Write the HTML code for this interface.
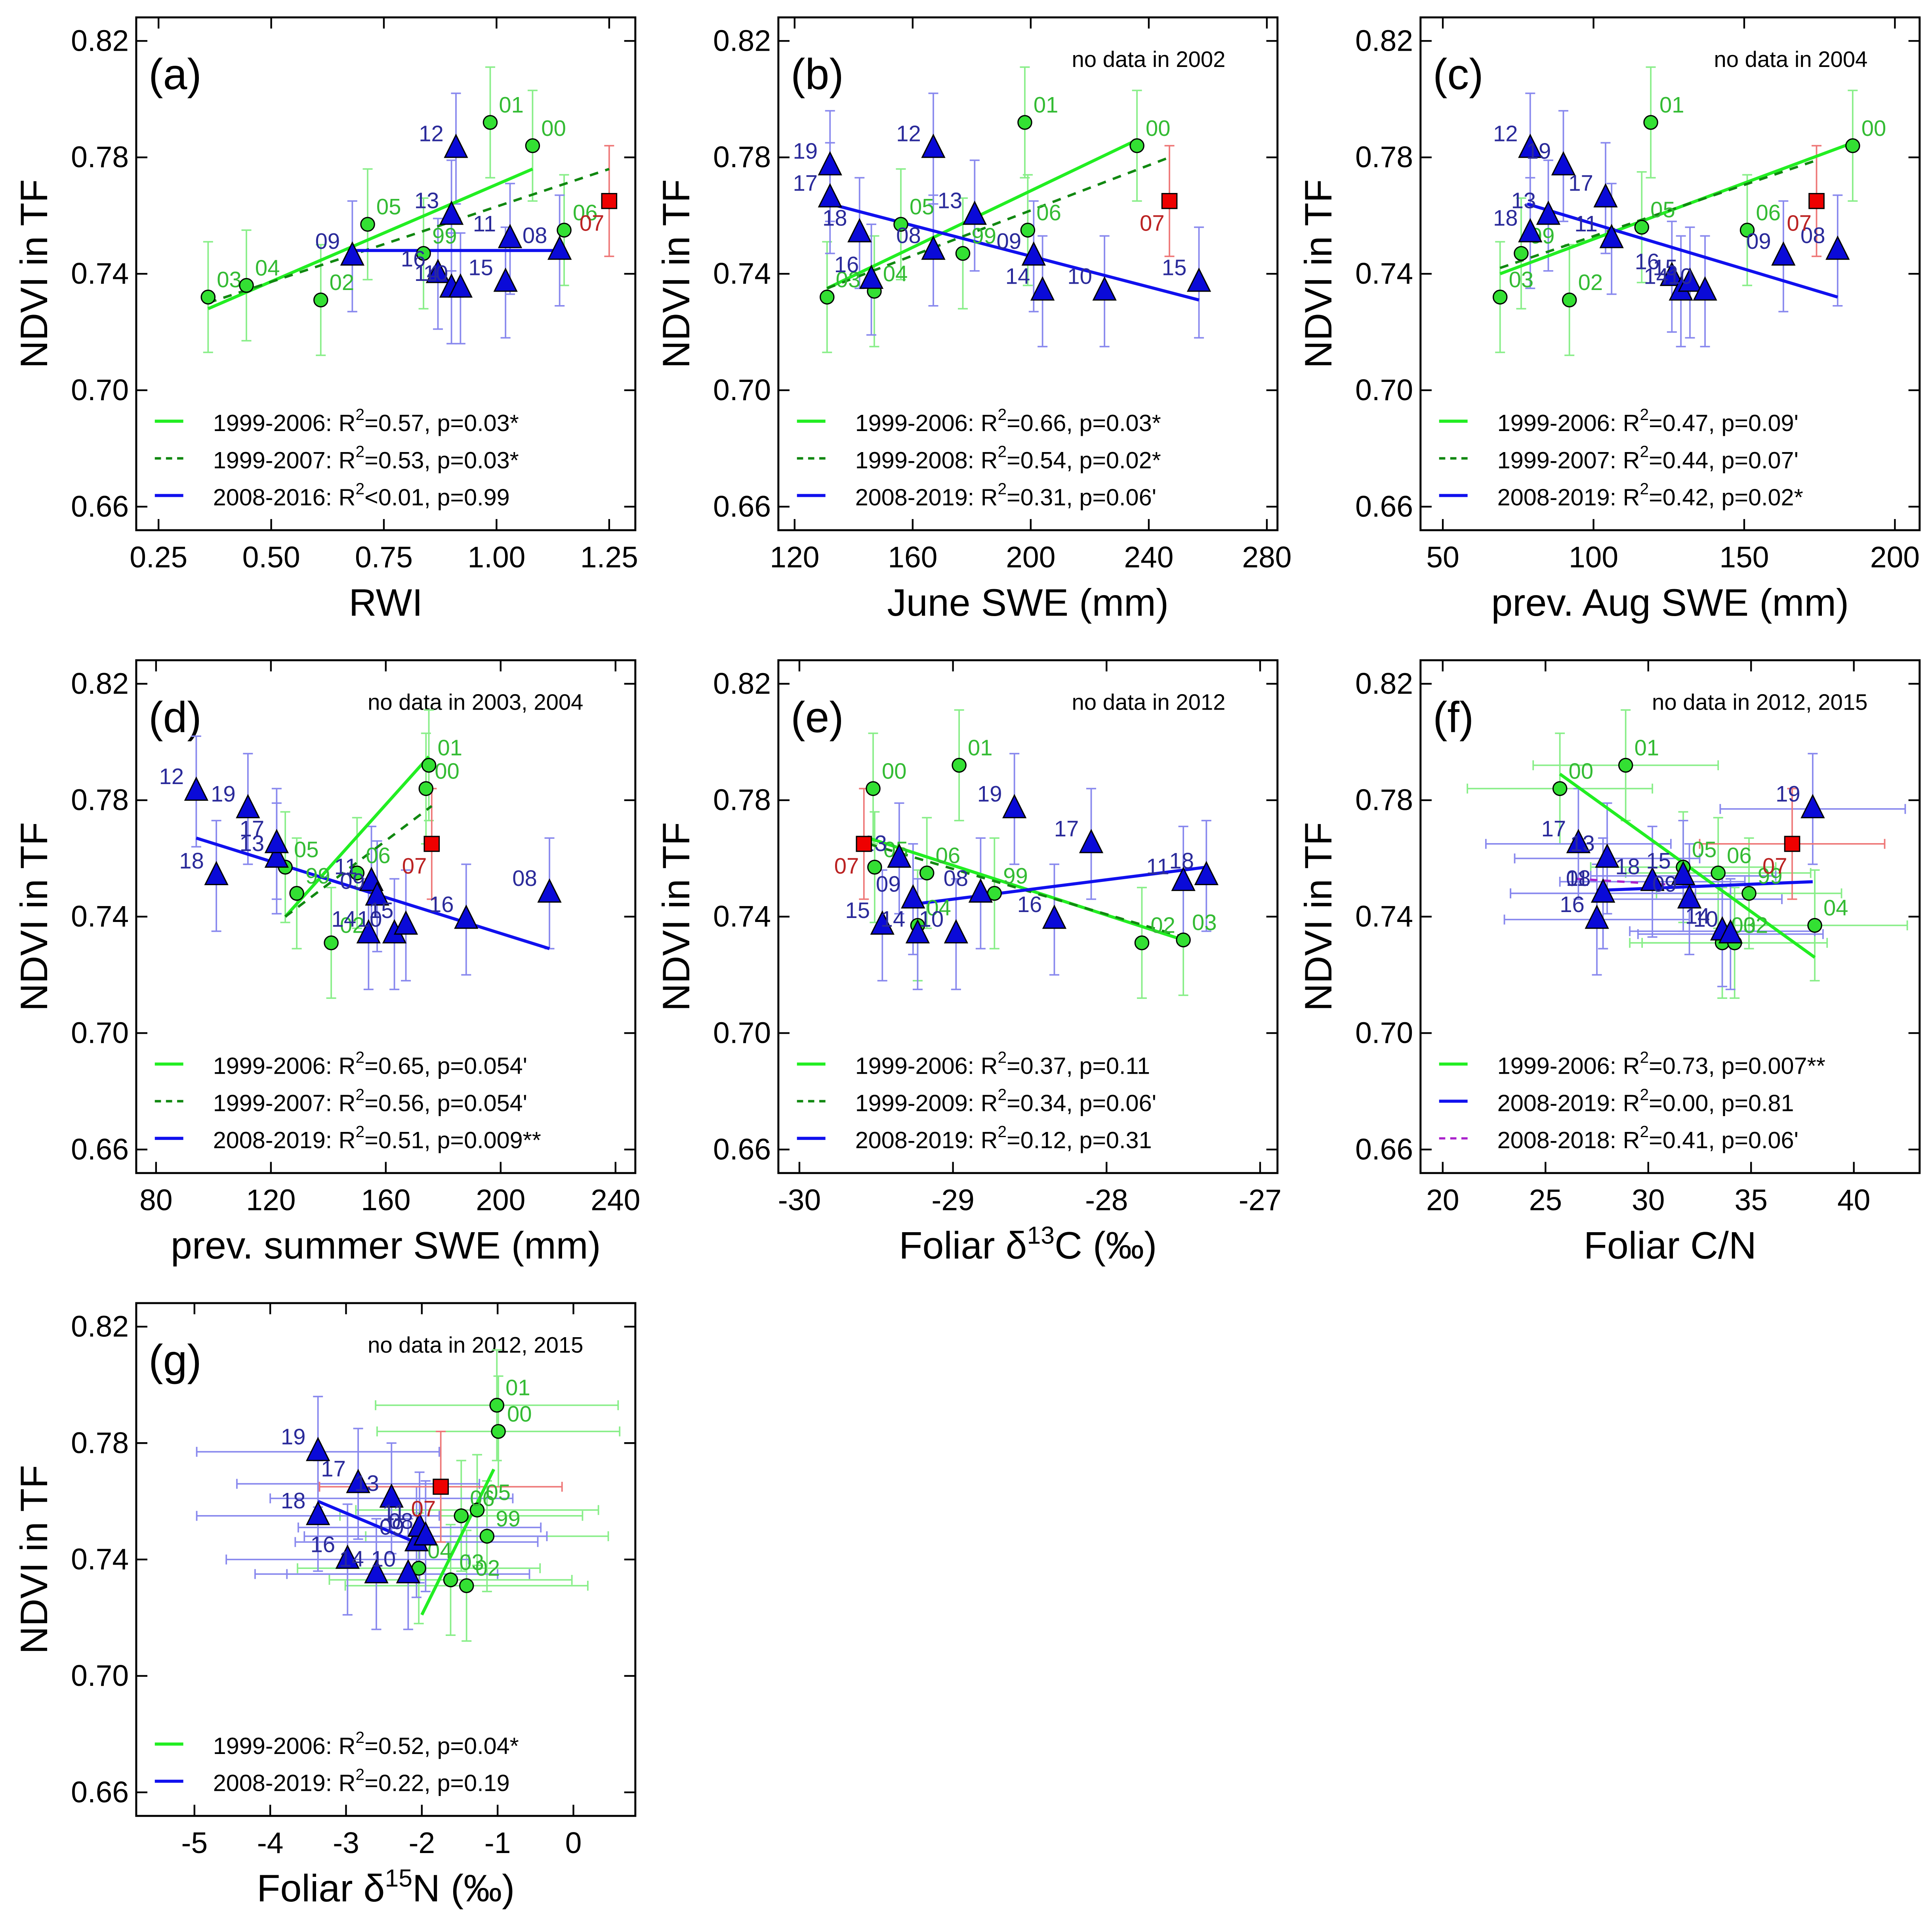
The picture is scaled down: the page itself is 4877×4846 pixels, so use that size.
<!DOCTYPE html>
<html><head><meta charset="utf-8"><style>
html,body{margin:0;padding:0;background:#fff}
svg{display:block}
text{font-family:"Liberation Sans",Arial,sans-serif}
</style></head><body>
<svg id="chart" xmlns="http://www.w3.org/2000/svg" width="4877" height="4846" viewBox="0 0 1560 1550"></svg>
<script>
// ---- Panel (a) RWI ----
const aGreenYears=["03","04","02","05","99","01","00","06"];
const aGreenX=[0.36,0.445,0.61,0.714,0.838,0.986,1.08,1.15];
const aGreenY=[0.732,0.736,0.731,0.757,0.747,0.792,0.784,0.755];
const aBlueYears=["09","12","13","16","14","10","11","15","08"];
const aBlueX=[0.68,0.91,0.90,0.87,0.90,0.92,1.03,1.02,1.14];
const aBlueY=[0.746,0.783,0.760,0.740,0.735,0.735,0.752,0.737,0.748];
const aRedX=[1.25], aRedY=[0.765];
const aLines=[[0.36,0.728,1.08,0.776],[0.36,0.730,1.25,0.776],[0.68,0.748,1.14,0.748]];
const aLegend=["1999-2006: R|=0.57, p=0.03*","1999-2007: R|=0.53, p=0.03*","2008-2016: R|<0.01, p=0.99"];
// ---- Panel (b) June SWE ----
const bGreenYears=["03","04","05","99","06","01","00"];
const bGreenX=[131,147,156,177,199,198,236];
const bGreenY=[0.732,0.734,0.757,0.747,0.755,0.792,0.784];
const bBlueYears=["19","17","18","16","08","12","13","09","14","10","15"];
const bBlueX=[132,132,142,146,167,167,181,201,204,225,257];
const bBlueY=[0.777,0.766,0.754,0.738,0.748,0.783,0.760,0.746,0.734,0.734,0.737];
const bRedX=[247], bRedY=[0.765];
const bLines=[[131,0.735,236,0.786],[131,0.735,247,0.780],[132,0.764,257,0.731]];
const bLegend=["1999-2006: R|=0.66, p=0.03*","1999-2008: R|=0.54, p=0.02*","2008-2019: R|=0.31, p=0.06'"];
// ---- Panel (c) prev Aug SWE ----
const cGreenYears=["03","99","02","05","01","06","00"];
const cGreenX=[69,76,92,116,119,151,186];
const cGreenY=[0.732,0.747,0.731,0.756,0.792,0.755,0.784];
const cBlueYears=["12","18","13","19","11","17","16","14","15","10","09","08"];
const cBlueX=[79,79,85,90,106,104,126,129,132,137,163,181];
const cBlueY=[0.783,0.754,0.760,0.777,0.752,0.766,0.739,0.734,0.737,0.734,0.746,0.748];
const cRedX=[174], cRedY=[0.765];
const cLines=[[69,0.740,186,0.785],[69,0.742,174,0.779],[78,0.764,181,0.732]];
const cLegend=["1999-2006: R|=0.47, p=0.09'","1999-2007: R|=0.44, p=0.07'","2008-2019: R|=0.42, p=0.02*"];
// ---- Panel (d) prev summer SWE ----
const dGreenYears=["99","02","05","06","00","01"];
const dGreenX=[129,141,125,150,174,175];
const dGreenY=[0.748,0.731,0.757,0.755,0.784,0.792];
const dBlueYears=["12","19","18","13","17","11","14","09","10","15","16","08"];
const dBlueX=[94,112,101,122,122,155,154,157,163,167,188,217];
const dBlueY=[0.783,0.777,0.754,0.760,0.765,0.752,0.734,0.747,0.734,0.737,0.739,0.748];
const dRedX=[176], dRedY=[0.765];
const dLines=[[125,0.740,175,0.795],[125,0.740,176,0.778],[94,0.767,217,0.729]];
const dLegend=["1999-2006: R|=0.65, p=0.054'","1999-2007: R|=0.56, p=0.054'","2008-2019: R|=0.51, p=0.009**"];
// ---- Panel (e) d13C ----
const eGreenYears=["00","05","01","06","04","99","02","03"];
const eGreenX=[-29.52,-29.51,-28.96,-29.17,-29.23,-28.73,-27.77,-27.5];
const eGreenY=[0.784,0.757,0.792,0.755,0.737,0.748,0.731,0.732];
const eBlueYears=["13","09","15","14","10","08","19","16","17","11","18"];
const eBlueX=[-29.35,-29.26,-29.46,-29.23,-28.98,-28.82,-28.6,-28.34,-28.1,-27.5,-27.35];
const eBlueY=[0.760,0.746,0.737,0.734,0.734,0.748,0.777,0.739,0.765,0.752,0.754];
const eRedX=[-29.58], eRedY=[0.765];
const eLines=[[-29.55,0.767,-27.5,0.732],[-29.55,0.765,-27.5,0.733],[-29.3,0.744,-27.35,0.757]];
const eLegend=["1999-2006: R|=0.37, p=0.11","1999-2009: R|=0.34, p=0.06'","2008-2019: R|=0.12, p=0.31"];
// ---- Panel (f) C/N ----
const fGreenYears=["00","01","05","06","99","04","03","02"];
const fGreenX=[25.7,28.9,31.7,33.4,34.9,38.1,33.6,34.2];
const fGreenY=[0.784,0.792,0.757,0.755,0.748,0.737,0.731,0.731];
const fBlueYears=["17","13","19","08","18","16","15","09","14","10","11"];
const fBlueX=[26.6,28.0,38.0,27.8,30.2,27.5,31.7,32.0,33.6,34.0,27.8];
const fBlueY=[0.765,0.760,0.777,0.748,0.752,0.739,0.754,0.746,0.735,0.734,0.748];
const fRedX=[37.0], fRedY=[0.765];
const fLines=[[25.7,0.789,38.1,0.726],[27.5,0.749,38,0.752],[26.5,0.753,31,0.751]];
const fLegend=["1999-2006: R|=0.73, p=0.007**","2008-2019: R|=0.00, p=0.81","2008-2018: R|=0.41, p=0.06'"];
// ---- Panel (g) d15N ----
const gGreenYears=["01","00","05","06","99","04","03","02"];
const gGreenX=[-1.01,-0.99,-1.27,-1.48,-1.14,-2.04,-1.62,-1.41];
const gGreenY=[0.793,0.784,0.757,0.755,0.748,0.737,0.733,0.731];
const gBlueYears=["19","17","13","18","16","14","10","09","11","08"];
const gBlueX=[-3.37,-2.84,-2.4,-3.37,-2.98,-2.6,-2.18,-2.07,-2.03,-1.95];
const gBlueY=[0.777,0.766,0.761,0.755,0.740,0.735,0.735,0.746,0.751,0.748];
const gRedX=[-1.75], gRedY=[0.765];
const gLines=[[-2.0,0.721,-1.05,0.771],[-3.37,0.760,-2.0,0.745]];
const gLegend=["1999-2006: R|=0.52, p=0.04*","2008-2019: R|=0.22, p=0.19"];

const yTicks=[0.82,0.78,0.74,0.70,0.66];
const yTickLabels=["0.82","0.78","0.74","0.70","0.66"];
const aXTicks=[0.25,0.5,0.75,1.0,1.25], aXLabels=["0.25","0.50","0.75","1.00","1.25"];
const bXTicks=[120,160,200,240,280], bXLabels=["120","160","200","240","280"];
const cXTicks=[50,100,150,200], cXLabels=["50","100","150","200"];
const dXTicks=[80,120,160,200,240], dXLabels=["80","120","160","200","240"];
const eXTicks=[-30,-29,-28,-27], eXLabels=["-30","-29","-28","-27"];
const fXTicks=[20,25,30,35,40], fXLabels=["20","25","30","35","40"];
const gXTicks=[-5,-4,-3,-2,-1,0], gXLabels=["-5","-4","-3","-2","-1","0"];

const NS="http://www.w3.org/2000/svg";
const svg=document.getElementById('chart');
function mk(tag,attrs,parent){const e=document.createElementNS(NS,tag);for(const k in attrs)e.setAttribute(k,attrs[k]);(parent||svg).appendChild(e);return e;}

const panels=[
 {id:'a',col:0,row:0,xmin:0.2005,xmax:1.308,xt:aXTicks,xl:aXLabels,gy:aGreenYears,gx:aGreenX,gv:aGreenY,by:aBlueYears,bx:aBlueX,bv:aBlueY,rx:aRedX,rv:aRedY,lines:aLines,leg:aLegend,styles:['g','dg','b'],xlab:'RWI',note:''},
 {id:'b',col:1,row:0,xmin:114.5,xmax:283.6,xt:bXTicks,xl:bXLabels,gy:bGreenYears,gx:bGreenX,gv:bGreenY,by:bBlueYears,bx:bBlueX,bv:bBlueY,rx:bRedX,rv:bRedY,lines:bLines,leg:bLegend,styles:['g','dg','b'],xlab:'June SWE (mm)',note:'no data in 2002'},
 {id:'c',col:2,row:0,xmin:42.6,xmax:208.2,xt:cXTicks,xl:cXLabels,gy:cGreenYears,gx:cGreenX,gv:cGreenY,by:cBlueYears,bx:cBlueX,bv:cBlueY,rx:cRedX,rv:cRedY,lines:cLines,leg:cLegend,styles:['g','dg','b'],xlab:'prev. Aug SWE (mm)',note:'no data in 2004'},
 {id:'d',col:0,row:1,xmin:73.1,xmax:246.9,xt:dXTicks,xl:dXLabels,gy:dGreenYears,gx:dGreenX,gv:dGreenY,by:dBlueYears,bx:dBlueX,bv:dBlueY,rx:dRedX,rv:dRedY,lines:dLines,leg:dLegend,styles:['g','dg','b'],xlab:'prev. summer SWE (mm)',note:'no data in 2003, 2004'},
 {id:'e',col:1,row:1,xmin:-30.137,xmax:-26.887,xt:eXTicks,xl:eXLabels,gy:eGreenYears,gx:eGreenX,gv:eGreenY,by:eBlueYears,bx:eBlueX,bv:eBlueY,rx:eRedX,rv:eRedY,lines:eLines,leg:eLegend,styles:['g','dg','b'],xlab:'C13',note:'no data in 2012'},
 {id:'f',col:2,row:1,xmin:18.92,xmax:43.2,xt:fXTicks,xl:fXLabels,gy:fGreenYears,gx:fGreenX,gv:fGreenY,by:fBlueYears,bx:fBlueX,bv:fBlueY,rx:fRedX,rv:fRedY,lines:fLines,leg:fLegend,styles:['g','b','p'],xlab:'Foliar C/N',note:'no data in 2012, 2015',xerr:4.5},
 {id:'g',col:0,row:2,xmin:-5.768,xmax:0.817,xt:gXTicks,xl:gXLabels,gy:gGreenYears,gx:gGreenX,gv:gGreenY,by:gBlueYears,bx:gBlueX,bv:gBlueY,rx:gRedX,rv:gRedY,lines:gLines,leg:gLegend,styles:['g','b'],xlab:'N15',note:'no data in 2012, 2015',xerr:1.6}
];
const lineStyle={g:{c:'#22ee22',d:'',w:2.5},dg:{c:'#118811',d:'7,6',w:2},b:{c:'#1010ee',d:'',w:2.5},p:{c:'#aa22cc',d:'6,5',w:1.8}};

panels.forEach(p=>{
 const L=110+518.5*p.col, T=14+519*p.row, W=403, H=414;
 const g=mk('g',{});
 
 
 const X=v=>L+(v-p.xmin)/(p.xmax-p.xmin)*W;
 const Y=v=>T+19+(0.82-v)/0.04*94;
 const box=mk('rect',{x:L,y:T,width:W,height:H,fill:'none',stroke:'#000','stroke-width':1.6},g);
 
 
 yTicks.forEach((v,i)=>{
  const y=Y(v);
  mk('line',{x1:L,x2:L+9,y1:y,y2:y,stroke:'#000','stroke-width':1.4},g);
  mk('line',{x1:L+W-9,x2:L+W,y1:y,y2:y,stroke:'#000','stroke-width':1.4},g);
  const t=mk('text',{x:L-6,y:y+8,'text-anchor':'end','font-size':24},g);t.textContent=yTickLabels[i];
  
  
 });
 p.xt.forEach((v,i)=>{
  const x=X(v);
  mk('line',{x1:x,x2:x,y1:T+H-9,y2:T+H,stroke:'#000','stroke-width':1.4},g);
  mk('line',{x1:x,x2:x,y1:T,y2:T+9,stroke:'#000','stroke-width':1.4},g);
  const t=mk('text',{x:x,y:T+H+30,'text-anchor':'middle','font-size':24},g);t.textContent=p.xl[i];
  
  
 });
 const yt=mk('text',{x:0,y:0,transform:`translate(${L-72},${T+207}) rotate(-90)`,'text-anchor':'middle','font-size':31},g);
 yt.textContent='NDVI in TF';
 
 
 const xt=mk('text',{x:L+W/2,y:T+H+69,'text-anchor':'middle','font-size':31},g);
 if(p.xlab==='C13'){xt.innerHTML='Foliar δ<tspan dy="-12" font-size="20">13</tspan><tspan dy="12">C (‰)</tspan>';}
 else if(p.xlab==='N15'){xt.innerHTML='Foliar δ<tspan dy="-12" font-size="20">15</tspan><tspan dy="12">N (‰)</tspan>';}
 else xt.textContent=p.xlab;
 
 
 const pl=mk('text',{x:L+10,y:T+58,'font-size':35},g);pl.textContent='('+p.id+')';
 
 
 if(p.note){const n=mk('text',{x:L+W-42,y:T+40,'text-anchor':'end','font-size':18},g);n.textContent=p.note;
  
  }
 const ebar=(x,y,col,xe)=>{
  const e=0.019;
  mk('line',{x1:X(x),x2:X(x),y1:Y(y-e),y2:Y(y+e),stroke:col,'stroke-width':1.2},g);
  mk('line',{x1:X(x)-4,x2:X(x)+4,y1:Y(y-e),y2:Y(y-e),stroke:col,'stroke-width':1.2},g);
  mk('line',{x1:X(x)-4,x2:X(x)+4,y1:Y(y+e),y2:Y(y+e),stroke:col,'stroke-width':1.2},g);
  if(xe){mk('line',{x1:X(x-xe),x2:X(x+xe),y1:Y(y),y2:Y(y),stroke:col,'stroke-width':1.2},g);
   mk('line',{x1:X(x-xe),x2:X(x-xe),y1:Y(y)-4,y2:Y(y)+4,stroke:col,'stroke-width':1.2},g);
   mk('line',{x1:X(x+xe),x2:X(x+xe),y1:Y(y)-4,y2:Y(y)+4,stroke:col,'stroke-width':1.2},g);}
 };
 p.gx.forEach((x,i)=>ebar(x,p.gv[i],'#88ee88',p.xerr));
 p.bx.forEach((x,i)=>ebar(x,p.bv[i],'#8888ee',p.xerr));
 p.rx.forEach((x,i)=>ebar(x,p.rv[i],'#ee7777',p.xerr));
 p.lines.forEach((ln,i)=>{
  const s=lineStyle[p.styles[i]];
  const l=mk('line',{x1:X(ln[0]),y1:Y(ln[1]),x2:X(ln[2]),y2:Y(ln[3]),stroke:s.c,'stroke-width':s.w,'stroke-dasharray':s.d},g);
  
  
 });
 p.gx.forEach((x,i)=>{
  const c=mk('circle',{cx:X(x),cy:Y(p.gv[i]),r:5.5,fill:'#33e033',stroke:'#000','stroke-width':1},g);
  
  
  const t=mk('text',{x:X(x)+7,y:Y(p.gv[i])-8,'font-size':18,fill:'#33bb33'},g);t.textContent=p.gy[i];
  
  
 });
 p.bx.forEach((x,i)=>{
  const cx=X(x),cy=Y(p.bv[i]);
  const tr=mk('polygon',{points:`${cx},${cy-11} ${cx-9},${cy+7} ${cx+9},${cy+7}`,fill:'#0a0ad8',stroke:'#000','stroke-width':1},g);
  
  
  const t=mk('text',{x:cx-30,y:cy-6,'font-size':18,fill:'#2a2a9a'},g);t.textContent=p.by[i];
  
  
 });
 p.rx.forEach((x,i)=>{
  const cx=X(x),cy=Y(p.rv[i]);
  const r=mk('rect',{x:cx-6,y:cy-6,width:12,height:12,fill:'#ee0000',stroke:'#000','stroke-width':1},g);
  
  
  const t=mk('text',{x:cx-24,y:cy+24,'font-size':18,fill:'#bb2222'},g);t.textContent='07';
  
  
 });
 const legBase = p.leg.length===2 ? T+356 : T+326;
 p.leg.forEach((s,i)=>{
  const y=legBase+30*i;
  const st=lineStyle[p.styles[i]];
  mk('line',{x1:L+15,x2:L+38,y1:y,y2:y,stroke:st.c,'stroke-width':st.w,'stroke-dasharray':st.d?'5,4':''},g);
  const parts=s.split('|');
  const t=mk('text',{x:L+62,y:y+8,'font-size':19},g);
  t.innerHTML=parts[0]+'<tspan dy="-9" font-size="13">2</tspan><tspan dy="9">'+parts[1]+'</tspan>';
  
  
 });
});
</script>
</body></html>
